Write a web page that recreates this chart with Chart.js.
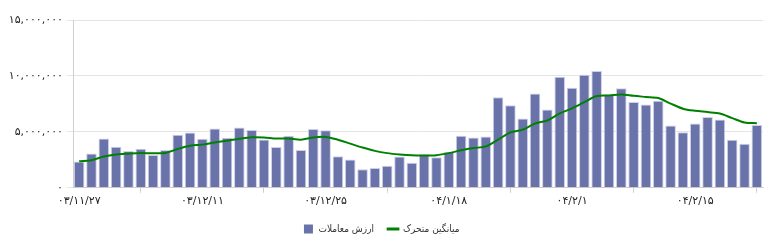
<!DOCTYPE html>
<html><head><meta charset="utf-8">
<style>html,body{margin:0;padding:0;background:#fff}#wrap{width:780px;height:244px;position:relative}</style>
<script src="https://cdn.jsdelivr.net/npm/chart.js@4"></script>
</head><body><div id="wrap"><canvas id="c"></canvas></div>
<script>
const categories = [
'۰۳/۱۱/۲۷','۰۳/۱۱/۲۸','۰۳/۱۱/۲۹','۰۳/۱۱/۳۰','۰۳/۱۲/۱','۰۳/۱۲/۴','۰۳/۱۲/۵','۰۳/۱۲/۶','۰۳/۱۲/۷','۰۳/۱۲/۸',
'۰۳/۱۲/۱۱','۰۳/۱۲/۱۲','۰۳/۱۲/۱۳','۰۳/۱۲/۱۴','۰۳/۱۲/۱۵','۰۳/۱۲/۱۸','۰۳/۱۲/۱۹','۰۳/۱۲/۲۰','۰۳/۱۲/۲۱','۰۳/۱۲/۲۲',
'۰۳/۱۲/۲۵','۰۳/۱۲/۲۶','۰۳/۱۲/۲۷','۰۳/۱۲/۲۸','۰۴/۱/۹','۰۴/۱/۱۰','۰۴/۱/۱۱','۰۴/۱/۱۴','۰۴/۱/۱۶','۰۴/۱/۱۷',
'۰۴/۱/۱۸','۰۴/۱/۱۹','۰۴/۱/۲۰','۰۴/۱/۲۳','۰۴/۱/۲۴','۰۴/۱/۲۵','۰۴/۱/۲۶','۰۴/۱/۲۷','۰۴/۱/۳۰','۰۴/۱/۳۱',
'۰۴/۲/۱','۰۴/۲/۲','۰۴/۲/۳','۰۴/۲/۶','۰۴/۲/۷','۰۴/۲/۸','۰۴/۲/۹','۰۴/۲/۱۰','۰۴/۲/۱۳','۰۴/۲/۱۴',
'۰۴/۲/۱۵','۰۴/۲/۱۶','۰۴/۲/۱۷','۰۴/۲/۲۰','۰۴/۲/۲۱','۰۴/۲/۲۲'];

const tradeValues = [
2350000, 3070000, 4400000, 3680000, 3290000, 3500000, 2930000, 3380000, 4740000, 4950000,
4380000, 5300000, 4470000, 5400000, 5170000, 4310000, 3640000, 4650000, 3390000, 5260000,
5140000, 2830000, 2530000, 1650000, 1770000, 1980000, 2800000, 2230000, 3000000, 2740000,
3220000, 4650000, 4500000, 4580000, 8100000, 7380000, 6200000, 8440000, 7000000, 9920000,
8950000, 10100000, 10450000, 8350000, 8900000, 7660000, 7440000, 7780000, 5560000, 4970000,
5750000, 6320000, 6100000, 4290000, 3940000, 5620000];

const movingAverage = [
2370000, 2470000, 2800000, 2980000, 3050000, 3100000, 3080000, 3120000, 3470000, 3750000,
3860000, 4050000, 4200000, 4380000, 4520000, 4500000, 4400000, 4400000, 4300000, 4500000,
4550000, 4300000, 3950000, 3600000, 3300000, 3100000, 2980000, 2900000, 2880000, 2920000,
3100000, 3350000, 3550000, 3700000, 4300000, 4950000, 5200000, 5750000, 6020000, 6650000,
7100000, 7650000, 8200000, 8250000, 8350000, 8220000, 8120000, 8020000, 7530000, 7070000,
6880000, 6770000, 6640000, 6230000, 5840000, 5770000];

const yTickLabels = ['۰', '۵,۰۰۰,۰۰۰', '۱۰,۰۰۰,۰۰۰', '۱۵,۰۰۰,۰۰۰'];
const xTickIndices = [0, 10, 20, 30, 40, 50];
const seriesNames = ['ارزش معاملات', 'میانگین متحرک'];

const FONT = "'DejaVu Sans', sans-serif";
const LEGEND_FONT = "'DejaVu Sans Condensed', 'DejaVu Sans', sans-serif";
const barColor = 'rgb(106,114,170)';
const barBorder = 'rgb(205,208,232)';
const lineColor = 'rgb(0,128,0)';

new Chart(document.getElementById('c'), {
  type: 'bar',
  data: {
    labels: categories,
    datasets: [
      { type: 'bar', label: seriesNames[0], data: tradeValues, backgroundColor: barColor,
        borderColor: barBorder, borderWidth: 1, barPercentage: 1, categoryPercentage: 0.86, order: 2 },
      { type: 'line', label: seriesNames[1], data: movingAverage, borderColor: lineColor,
        backgroundColor: lineColor, borderWidth: 2, pointRadius: 0, pointHoverRadius: 0,
        tension: 0.3, fill: false, order: 1 }
    ]
  },
  options: {
    responsive: true, maintainAspectRatio: false, animation: false, devicePixelRatio: 1,
    layout: { padding: { top: 20, right: 17, left: 0, bottom: 0 } },
    plugins: {
      tooltip: { enabled: false },
      legend: {
        position: 'bottom',
        labels: {
          usePointStyle: true, boxHeight: 9, padding: 14, color: '#333',
          font: { family: LEGEND_FONT, size: 10 },
          generateLabels(chart) {
            const items = Chart.defaults.plugins.legend.labels.generateLabels(chart);
            items.forEach(it => {
              if (it.datasetIndex === 0) { it.pointStyle = 'rect'; it.fillStyle = barColor; it.strokeStyle = barColor; it.lineWidth = 0; }
              else { it.pointStyle = 'line'; it.strokeStyle = lineColor; it.lineWidth = 3; }
            });
            return items.sort((a, b) => a.datasetIndex - b.datasetIndex);
          }
        }
      }
    },
    scales: {
      x: {
        grid: { drawOnChartArea: false, color: '#cfcfcf', tickLength: 5 },
        border: { color: '#cfcfcf' },
        ticks: {
          autoSkip: false, maxRotation: 0, color: '#222', padding: 2,
          font: { family: FONT, size: 11 },
          callback: (v, i) => xTickIndices.includes(i) ? categories[i] : null
        }
      },
      y: {
        min: 0, max: 15000000,
        afterFit(s) { s.width = 73; },
        grid: { color: '#e4e4e4', tickLength: 6 },
        border: { color: '#cfcfcf' },
        ticks: {
          stepSize: 5000000, color: '#222', padding: 4,
          font: { family: FONT, size: 11 },
          callback: (v) => yTickLabels[Math.round(v / 5000000)]
        }
      }
    }
  }
});
</script>
</body></html>
